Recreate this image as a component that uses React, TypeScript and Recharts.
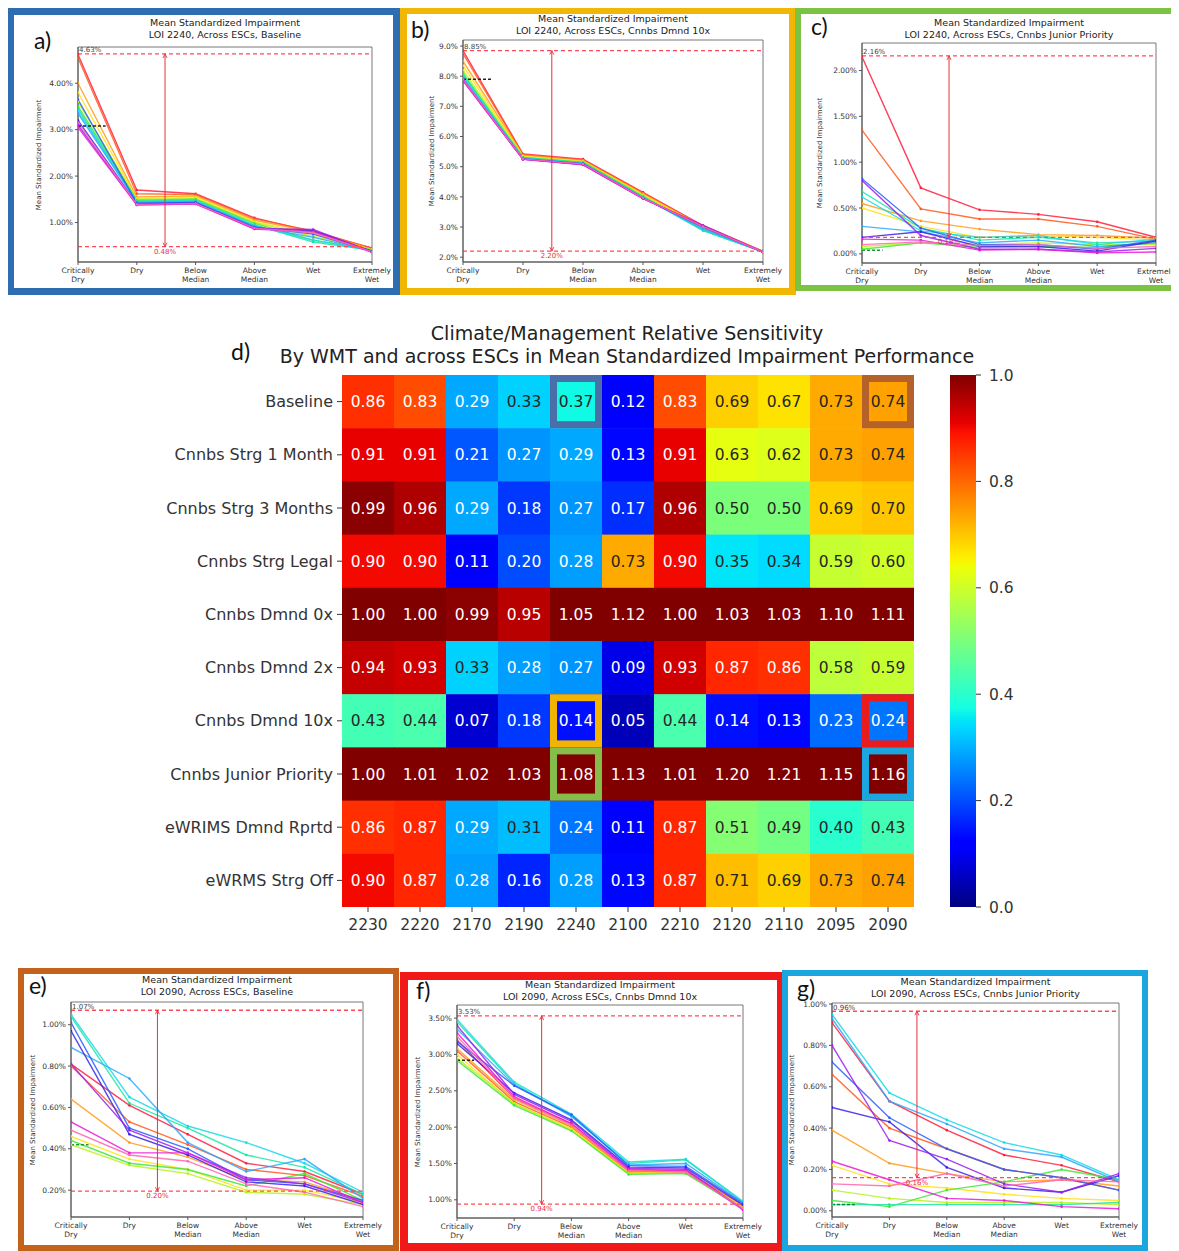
import React from 'react';
import {
  LineChart, Line, XAxis, YAxis, ReferenceLine, ReferenceArea,
  ScatterChart, Scatter, BarChart, Bar,
} from 'recharts';

const FONT = '"DejaVu Sans", sans-serif';
const TAG_FONT = 'Lato, "Open Sans", sans-serif';

// ---- shared categories ----
const CLIMATE = ['Critically Dry', 'Dry', 'Below Median', 'Above Median', 'Wet', 'Extremely Wet'];
const ESC_COLORS = [
  '#ff1f3d', '#ff5a1f', '#ff9d1a', '#ffe01a', '#b8f21a', '#3ee83a', '#19e6a0',
  '#19d9e6', '#2ba8ff', '#2c5cff', '#3a23e8', '#9a1ff0', '#e81ad8', '#ff66b0',
];

// ---- panel a: LOI 2240, Baseline ----
const SERIES_A = [
  [4.62, 1.70, 1.62, 1.10, 0.80, 0.45],
  [4.55, 1.62, 1.60, 1.08, 0.82, 0.44],
  [4.00, 1.55, 1.57, 1.05, 0.80, 0.43],
  [3.80, 1.52, 1.55, 1.02, 0.75, 0.42],
  [3.60, 1.50, 1.52, 1.00, 0.70, 0.42],
  [3.50, 1.48, 1.50, 0.98, 0.62, 0.41],
  [3.45, 1.46, 1.48, 0.95, 0.58, 0.40],
  [3.40, 1.45, 1.47, 0.93, 0.62, 0.40],
  [3.35, 1.44, 1.45, 0.92, 0.68, 0.39],
  [3.65, 1.42, 1.43, 0.90, 0.75, 0.38],
  [3.20, 1.40, 1.42, 0.88, 0.82, 0.38],
  [3.10, 1.38, 1.40, 0.87, 0.85, 0.37],
  [3.05, 1.38, 1.40, 0.86, 0.80, 0.36],
  [3.15, 1.39, 1.41, 0.88, 0.78, 0.37],
];
const LIMITS_A = [0.48, 4.63];
const MARK_A = 3.08;

// ---- panel b: LOI 2240, Cnnbs Dmnd 10x ----
const SERIES_B = [
  [8.85, 5.42, 5.25, 4.15, 3.05, 2.20],
  [8.75, 5.40, 5.22, 4.12, 3.03, 2.20],
  [8.50, 5.38, 5.20, 4.10, 3.02, 2.19],
  [8.35, 5.35, 5.18, 4.07, 3.00, 2.19],
  [8.20, 5.33, 5.16, 4.05, 2.95, 2.18],
  [8.10, 5.30, 5.15, 4.02, 2.90, 2.18],
  [8.05, 5.30, 5.13, 4.00, 2.88, 2.18],
  [8.00, 5.28, 5.12, 3.98, 2.90, 2.18],
  [7.95, 5.27, 5.10, 3.97, 2.95, 2.18],
  [7.90, 5.26, 5.10, 3.96, 3.00, 2.17],
  [7.88, 5.25, 5.08, 3.95, 3.02, 2.17],
  [7.85, 5.25, 5.07, 3.95, 3.05, 2.17],
  [7.85, 5.24, 5.06, 3.94, 3.03, 2.17],
  [7.90, 5.26, 5.09, 3.96, 3.01, 2.17],
];
const LIMITS_B = [2.2, 8.85];
const MARK_B = 7.9;

// ---- panel c: LOI 2240, Cnnbs Junior Priority ----
const SERIES_C = [
  [2.15, 0.72, 0.48, 0.43, 0.35, 0.18],
  [1.35, 0.49, 0.38, 0.38, 0.30, 0.16],
  [0.55, 0.36, 0.27, 0.21, 0.20, 0.17],
  [0.50, 0.30, 0.18, 0.20, 0.18, 0.15],
  [0.08, 0.12, 0.10, 0.12, 0.10, 0.10],
  [0.05, 0.12, 0.07, 0.08, 0.07, 0.12],
  [0.68, 0.28, 0.15, 0.18, 0.12, 0.14],
  [0.62, 0.25, 0.18, 0.20, 0.10, 0.16],
  [0.30, 0.24, 0.12, 0.15, 0.08, 0.12],
  [0.82, 0.28, 0.10, 0.10, 0.05, 0.15],
  [0.18, 0.24, 0.08, 0.08, 0.03, 0.14],
  [0.80, 0.20, 0.05, 0.05, 0.02, 0.06],
  [0.16, 0.15, 0.04, 0.05, 0.01, 0.02],
  [0.10, 0.13, 0.09, 0.10, 0.06, 0.08],
];
const LIMITS_C = [0.18, 2.16];
const MARK_C = 0.04;

// ---- panel e: LOI 2090, Baseline ----
const SERIES_E = [
  [0.81, 0.61, 0.47, 0.33, 0.29, 0.18],
  [0.80, 0.53, 0.42, 0.30, 0.27, 0.17],
  [0.64, 0.43, 0.36, 0.25, 0.24, 0.15],
  [0.46, 0.35, 0.30, 0.20, 0.20, 0.14],
  [0.42, 0.32, 0.28, 0.19, 0.18, 0.13],
  [0.44, 0.33, 0.30, 0.22, 0.28, 0.15],
  [1.04, 0.62, 0.50, 0.37, 0.31, 0.18],
  [1.05, 0.65, 0.51, 0.43, 0.33, 0.19],
  [0.89, 0.74, 0.43, 0.29, 0.35, 0.16],
  [1.01, 0.50, 0.40, 0.25, 0.23, 0.15],
  [0.97, 0.47, 0.37, 0.24, 0.22, 0.13],
  [0.81, 0.49, 0.38, 0.26, 0.23, 0.14],
  [0.53, 0.38, 0.38, 0.25, 0.26, 0.14],
  [0.49, 0.37, 0.34, 0.23, 0.19, 0.12],
];
const LIMITS_E = [0.195, 1.07];
const MARK_E = 0.42;

// ---- panel f: LOI 2090, Cnnbs Dmnd 10x ----
const SERIES_F = [
  [3.20, 2.40, 2.05, 1.40, 1.40, 0.92],
  [3.05, 2.35, 2.00, 1.38, 1.38, 0.90],
  [3.08, 2.38, 2.02, 1.40, 1.40, 0.91],
  [3.00, 2.32, 1.98, 1.37, 1.38, 0.90],
  [2.95, 2.33, 1.96, 1.36, 1.37, 0.89],
  [2.92, 2.30, 1.95, 1.35, 1.36, 0.88],
  [3.45, 2.60, 2.15, 1.50, 1.55, 0.97],
  [3.48, 2.62, 2.18, 1.52, 1.56, 0.98],
  [3.35, 2.58, 2.15, 1.48, 1.50, 0.96],
  [3.18, 2.57, 2.17, 1.47, 1.46, 0.95],
  [3.15, 2.47, 2.10, 1.45, 1.44, 0.93],
  [3.40, 2.45, 2.08, 1.43, 1.42, 0.87],
  [3.30, 2.42, 2.05, 1.42, 1.40, 0.86],
  [3.25, 2.40, 2.03, 1.40, 1.38, 0.88],
];
const LIMITS_F = [0.94, 3.53];
const MARK_F = 2.92;

// ---- panel g: LOI 2090, Cnnbs Junior Priority ----
const SERIES_G = [
  [0.91, 0.53, 0.39, 0.27, 0.22, 0.14],
  [0.66, 0.40, 0.30, 0.20, 0.16, 0.10],
  [0.39, 0.23, 0.18, 0.14, 0.15, 0.12],
  [0.22, 0.13, 0.11, 0.08, 0.06, 0.05],
  [0.10, 0.06, 0.04, 0.04, 0.04, 0.03],
  [0.05, 0.02, 0.10, 0.14, 0.20, 0.15],
  [0.03, 0.03, 0.03, 0.03, 0.03, 0.04],
  [0.95, 0.57, 0.44, 0.33, 0.27, 0.15],
  [0.93, 0.53, 0.42, 0.30, 0.26, 0.14],
  [0.72, 0.45, 0.30, 0.20, 0.16, 0.10],
  [0.50, 0.43, 0.21, 0.11, 0.09, 0.17],
  [0.80, 0.34, 0.25, 0.13, 0.09, 0.18],
  [0.24, 0.15, 0.06, 0.05, 0.02, 0.01],
  [0.13, 0.12, 0.18, 0.12, 0.15, 0.14],
];
const LIMITS_G = [0.16, 0.965];
const MARK_G = 0.03;

// ---- panel d: heatmap ----
const ESCS = ['2230', '2220', '2170', '2190', '2240', '2100', '2210', '2120', '2110', '2095', '2090'];
const WMTS = [
  'Baseline', 'Cnnbs Strg 1 Month', 'Cnnbs Strg 3 Months', 'Cnnbs Strg Legal', 'Cnnbs Dmnd 0x',
  'Cnnbs Dmnd 2x', 'Cnnbs Dmnd 10x', 'Cnnbs Junior Priority', 'eWRIMS Dmnd Rprtd', 'eWRMS Strg Off',
];
const ROW_BASELINE = [0.86, 0.83, 0.29, 0.33, 0.37, 0.12, 0.83, 0.69, 0.67, 0.73, 0.74];
const ROW_STRG_1M = [0.91, 0.91, 0.21, 0.27, 0.29, 0.13, 0.91, 0.63, 0.62, 0.73, 0.74];
const ROW_STRG_3M = [0.99, 0.96, 0.29, 0.18, 0.27, 0.17, 0.96, 0.50, 0.50, 0.69, 0.70];
const ROW_STRG_LEGAL = [0.90, 0.90, 0.11, 0.20, 0.28, 0.73, 0.90, 0.35, 0.34, 0.59, 0.60];
const ROW_DMND_0X = [1.00, 1.00, 0.99, 0.95, 1.05, 1.12, 1.00, 1.03, 1.03, 1.10, 1.11];
const ROW_DMND_2X = [0.94, 0.93, 0.33, 0.28, 0.27, 0.09, 0.93, 0.87, 0.86, 0.58, 0.59];
const ROW_DMND_10X = [0.43, 0.44, 0.07, 0.18, 0.14, 0.05, 0.44, 0.14, 0.13, 0.23, 0.24];
const ROW_JUNIOR = [1.00, 1.01, 1.02, 1.03, 1.08, 1.13, 1.01, 1.20, 1.21, 1.15, 1.16];
const ROW_EWRIMS_DMND = [0.86, 0.87, 0.29, 0.31, 0.24, 0.11, 0.87, 0.51, 0.49, 0.40, 0.43];
const ROW_EWRMS_STRG = [0.90, 0.87, 0.28, 0.16, 0.28, 0.13, 0.87, 0.71, 0.69, 0.73, 0.74];
const HEAT_ROWS = [
  ROW_BASELINE, ROW_STRG_1M, ROW_STRG_3M, ROW_STRG_LEGAL, ROW_DMND_0X,
  ROW_DMND_2X, ROW_DMND_10X, ROW_JUNIOR, ROW_EWRIMS_DMND, ROW_EWRMS_STRG,
];
// cells that are blown up in the side panels
const HIGHLIGHT_CELLS = [
  ['Baseline', '2240'], ['Baseline', '2090'], ['Cnnbs Dmnd 10x', '2240'],
  ['Cnnbs Dmnd 10x', '2090'], ['Cnnbs Junior Priority', '2240'], ['Cnnbs Junior Priority', '2090'],
];
const HIGHLIGHT_COLORS = ['#4a6fa8', '#b5622a', '#f2b400', '#e81c1c', '#86bd4a', '#1ba6e0'];
const CBAR_TICKS = [0, 0.2, 0.4, 0.6, 0.8, 1.0];

// ---- matplotlib jet colormap ----
const JET_R = [[0, 0], [0.35, 0], [0.66, 1], [0.89, 1], [1, 0.5]];
const JET_G = [[0, 0], [0.125, 0], [0.375, 1], [0.64, 1], [0.91, 0], [1, 0]];
const JET_B = [[0, 0.5], [0.11, 1], [0.34, 1], [0.65, 0], [1, 0]];
function interp(pts: number[][], v: number) {
  const t = Math.max(0, Math.min(1, v));
  for (let i = 1; i < pts.length; i++) {
    if (t <= pts[i][0]) {
      const [x0, y0] = pts[i - 1];
      const [x1, y1] = pts[i];
      return y0 + ((y1 - y0) * (t - x0)) / (x1 - x0);
    }
  }
  return pts[pts.length - 1][1];
}
const jet = (v: number) => [interp(JET_R, v), interp(JET_G, v), interp(JET_B, v)];
const hex = (c: number[]) =>
  '#' + c.map((x) => Math.round(x * 255).toString(16).padStart(2, '0')).join('');
const lum = (c: number[]) => {
  const lin = (x: number) => (x <= 0.03928 ? x / 12.92 : Math.pow((x + 0.055) / 1.055, 2.4));
  return 0.2126 * lin(c[0]) + 0.7152 * lin(c[1]) + 0.0722 * lin(c[2]);
};
const JET_STOPS = [0, 0.11, 0.125, 0.34, 0.35, 0.375, 0.5, 0.64, 0.65, 0.66, 0.89, 0.91, 1];

// ---- small line-chart panels ----
type Panel = {
  tag: string; title: string; series: number[][]; limits: number[]; mark: number;
  markColor: string; markTo: number; domain: [number, number]; ticks: number[]; digits: number;
  frame: number[]; border: string; bw: number; plot: number[]; tagPos: number[];
  titleY: number; ylabelX: number;
};

const PANELS: Panel[] = [
  {
    tag: 'a)', title: 'LOI 2240, Across ESCs, Baseline', series: SERIES_A, limits: LIMITS_A, mark: MARK_A,
    markColor: '#222', markTo: 0.47, domain: [0.15, 4.78], ticks: [1, 2, 3, 4], digits: 2,
    frame: [7, 8, 393, 287], border: '#2f6db3', bw: 7, plot: [78, 47, 372, 262], tagPos: [34, 29],
    titleY: 23, ylabelX: 38,
  },
  {
    tag: 'b)', title: 'LOI 2240, Across ESCs, Cnnbs Dmnd 10x', series: SERIES_B, limits: LIMITS_B, mark: MARK_B,
    markColor: '#222', markTo: 0.5, domain: [1.84, 9.2], ticks: [2, 3, 4, 5, 6, 7, 8, 9], digits: 1,
    frame: [400, 7, 396, 288], border: '#f2b705', bw: 7, plot: [463, 40, 763, 262], tagPos: [411, 18],
    titleY: 19, ylabelX: 432,
  },
  {
    tag: 'c)', title: 'LOI 2240, Across ESCs, Cnnbs Junior Priority', series: SERIES_C, limits: LIMITS_C, mark: MARK_C,
    markColor: '#1f9a2a', markTo: 0.35, domain: [-0.1, 2.3], ticks: [0, 0.5, 1, 1.5, 2], digits: 2,
    frame: [795, 8, 384, 283], border: '#7cc243', bw: 6, plot: [862, 43, 1156, 263], tagPos: [811, 15],
    titleY: 23, ylabelX: 820,
  },
  {
    tag: 'e)', title: 'LOI 2090, Across ESCs, Baseline', series: SERIES_E, limits: LIMITS_E, mark: MARK_E,
    markColor: '#1f9a2a', markTo: 0.3, domain: [0.07, 1.11], ticks: [0.2, 0.4, 0.6, 0.8, 1.0], digits: 2,
    frame: [18, 968, 381, 283], border: '#c4621b', bw: 6, plot: [71, 1002, 363, 1217], tagPos: [29, 974],
    titleY: 980, ylabelX: 32,
  },
  {
    tag: 'f)', title: 'LOI 2090, Across ESCs, Cnnbs Dmnd 10x', series: SERIES_F, limits: LIMITS_F, mark: MARK_F,
    markColor: '#222', markTo: 0.3, domain: [0.75, 3.68], ticks: [1, 1.5, 2, 2.5, 3, 3.5], digits: 2,
    frame: [400, 972, 385, 279], border: '#f01818', bw: 8, plot: [457, 1005, 743, 1218], tagPos: [416, 979],
    titleY: 985, ylabelX: 417,
  },
  {
    tag: 'g)', title: 'LOI 2090, Across ESCs, Cnnbs Junior Priority', series: SERIES_G, limits: LIMITS_G, mark: MARK_G,
    markColor: '#1f7a2a', markTo: 0.4, domain: [-0.03, 1.005], ticks: [0, 0.2, 0.4, 0.6, 0.8, 1.0], digits: 2,
    frame: [782, 970, 366, 281], border: '#1ba6df', bw: 6, plot: [832, 1003, 1119, 1217], tagPos: [797, 977],
    titleY: 982, ylabelX: 792,
  },
];

const ClimateTick = (props: any) => {
  const { x, y, payload } = props;
  const words = (CLIMATE[payload.value] || '').split(' ');
  return (
    <text x={x} y={y} textAnchor="middle" fontSize={7.5} fill="#333" fontFamily={FONT}>
      {words.map((w, k) => (
        <tspan key={k} x={x} dy={k === 0 ? '0.75em' : '1.2em'}>{w}</tspan>
      ))}
    </text>
  );
};

const HiLabel = (props: any) => {
  const { viewBox, value } = props;
  if (!viewBox) return null;
  return (
    <text x={viewBox.x + 1} y={viewBox.y - 1.5} fontSize={7} fill="#444" fontFamily={FONT}>{value}</text>
  );
};

// arrow tips and the low-value label for the vertical range line
const RangeLabel = (props: any) => {
  const { viewBox, value } = props;
  if (!viewBox) return null;
  const x = viewBox.x;
  const top = viewBox.y;
  const bot = viewBox.y + viewBox.height;
  return (
    <g>
      <path d={`M${x - 2},${top + 4} L${x},${top} L${x + 2},${top + 4}`} fill="none" stroke="#e8303c" strokeWidth={0.9} />
      <path d={`M${x - 2},${bot - 4} L${x},${bot} L${x + 2},${bot - 4}`} fill="none" stroke="#e8303c" strokeWidth={0.9} />
      <text x={x} y={bot + 7} textAnchor="middle" fontSize={7} fill="#e8303c" fontFamily={FONT}>{value}</text>
    </g>
  );
};

function SmallPanel({ p }: { p: Panel }) {
  const [l, t, r, b] = p.plot;
  const w = r - l;
  const h = b - t;
  const data = CLIMATE.map((c, i) => {
    const row: any = { i, name: c };
    p.series.forEach((s, k) => { row['s' + k] = s[i]; });
    return row;
  });
  const fmt = (v: number) => v.toFixed(p.digits) + '%';
  const [lo, hi] = p.limits;
  return (
    <>
      <div
        style={{
          position: 'absolute', left: p.frame[0], top: p.frame[1], width: p.frame[2], height: p.frame[3],
          border: `${p.bw}px solid ${p.border}`, boxSizing: 'border-box', background: '#fff',
        }}
      />
      <div
        style={{
          position: 'absolute', left: l - 40, width: w + 80, top: p.titleY - 6, textAlign: 'center',
          fontFamily: FONT, fontSize: 9.5, lineHeight: '11.5px', color: '#222', whiteSpace: 'nowrap',
        }}
      >
        Mean Standardized Impairment<br />{p.title}
      </div>
      <div
        style={{
          position: 'absolute', left: p.tagPos[0], top: p.tagPos[1], fontFamily: TAG_FONT,
          fontSize: 23, lineHeight: 1, color: '#111',
        }}
      >
        {p.tag}
      </div>
      <div
        style={{
          position: 'absolute', left: p.ylabelX - h / 2, top: (t + b) / 2 - 5, width: h, height: 10,
          textAlign: 'center', fontFamily: FONT, fontSize: 7, lineHeight: '10px', color: '#333',
          transform: 'rotate(-90deg)', whiteSpace: 'nowrap',
        }}
      >
        Mean Standardized Impairment
      </div>
      <div style={{ position: 'absolute', left: l - 60, top: t - 10 }}>
        <LineChart width={w + 90} height={h + 45} data={data} margin={{ top: 10, right: 30, bottom: 5, left: 20 }}>
          <XAxis
            type="number" dataKey="i" domain={[0, 5]} ticks={[0, 1, 2, 3, 4, 5]} interval={0}
            tick={<ClimateTick />} tickSize={3} tickMargin={2} height={30} stroke="#555" allowDataOverflow
          />
          <YAxis
            type="number" domain={p.domain} ticks={p.ticks} interval={0} tickFormatter={fmt} width={40}
            tickSize={3} tickMargin={2} stroke="#555" allowDataOverflow
            tick={{ fontSize: 7.5, fill: '#333', fontFamily: FONT }}
          />
          <ReferenceArea x1={0} x2={5} y1={p.domain[0]} y2={p.domain[1]} fill="none" stroke="#555" strokeWidth={0.8} />
          {p.series.map((_, k) => (
            <Line
              key={k} type="linear" dataKey={'s' + k} stroke={ESC_COLORS[k]} strokeWidth={1.4}
              strokeOpacity={0.85} isAnimationActive={false}
              dot={{ r: 1.3, fill: ESC_COLORS[k], stroke: ESC_COLORS[k], strokeWidth: 0 }}
            />
          ))}
          <ReferenceLine y={hi} stroke="#ff4a55" strokeDasharray="4 3" strokeWidth={1.3} label={<HiLabel value={hi.toFixed(2) + '%'} />} />
          <ReferenceLine y={lo} stroke="#ff4a55" strokeDasharray="4 3" strokeWidth={1.3} />
          <ReferenceLine
            segment={[{ x: 1.48, y: lo }, { x: 1.48, y: hi }]} stroke="#e8303c" strokeWidth={1}
            label={<RangeLabel value={lo.toFixed(2) + '%'} />}
          />
          <ReferenceLine
            segment={[{ x: 0, y: p.mark }, { x: p.markTo, y: p.mark }]} stroke={p.markColor}
            strokeDasharray="3 2" strokeWidth={1.5}
          />
        </LineChart>
      </div>
    </>
  );
}

// ---- heatmap ----
const HM_LEFT = 0;
const HM_TOP = 360;
const HM_W = 1000;
const HM_H = 590;
const HM_MARGIN = { top: 15, right: 86, bottom: 13, left: 142 };
const HM_YAXIS_W = 200;
const HM_XAXIS_H = 30;
const CELL_W = (HM_W - HM_MARGIN.left - HM_MARGIN.right - HM_YAXIS_W) / ESCS.length;
const CELL_H = (HM_H - HM_MARGIN.top - HM_MARGIN.bottom - HM_XAXIS_H) / WMTS.length;

const HeatCell = (props: any) => {
  const { cx, cy, payload } = props;
  const c = jet(payload.v);
  return (
    <g>
      <rect x={cx - CELL_W / 2} y={cy - CELL_H / 2} width={CELL_W + 0.6} height={CELL_H + 0.6} fill={hex(c)} />
      <text
        x={cx} y={cy} dy="0.36em" textAnchor="middle" fontSize={15.5} fontFamily={FONT}
        fill={lum(c) > 0.408 ? '#262626' : '#ffffff'}
      >
        {payload.v.toFixed(2)}
      </text>
    </g>
  );
};

const HighlightBox = (props: any) => {
  const { cx, cy, payload } = props;
  const sw = 7;
  return (
    <rect
      x={cx - CELL_W / 2 + sw / 2} y={cy - CELL_H / 2 + sw / 2} width={CELL_W - sw} height={CELL_H - sw}
      fill="none" stroke={HIGHLIGHT_COLORS[payload.k]} strokeWidth={sw}
    />
  );
};

function Heatmap() {
  const cells: any[] = [];
  HEAT_ROWS.forEach((row, r) => row.forEach((v, c) => cells.push({ x: c + 0.5, y: r + 0.5, v })));
  const boxes = HIGHLIGHT_CELLS.map(([wmt, esc], k) => ({
    x: ESCS.indexOf(esc) + 0.5, y: WMTS.indexOf(wmt) + 0.5, k,
  }));
  return (
    <div style={{ position: 'absolute', left: HM_LEFT, top: HM_TOP }}>
      <ScatterChart width={HM_W} height={HM_H} margin={HM_MARGIN}>
        <XAxis
          type="number" dataKey="x" domain={[0, ESCS.length]} ticks={ESCS.map((_, i) => i + 0.5)} interval={0}
          tickFormatter={(v: number) => ESCS[Math.floor(v)]} axisLine={false} tickSize={5} tickMargin={7}
          height={HM_XAXIS_H} stroke="#333" tick={{ fontSize: 15.5, fill: '#333', fontFamily: FONT }} allowDataOverflow
        />
        <YAxis
          type="number" dataKey="y" domain={[0, WMTS.length]} reversed ticks={WMTS.map((_, i) => i + 0.5)}
          interval={0} tickFormatter={(v: number) => WMTS[Math.floor(v)]} axisLine={false} tickSize={5}
          tickMargin={4} width={HM_YAXIS_W} stroke="#333"
          tick={{ fontSize: 16, fill: '#333', fontFamily: FONT }} allowDataOverflow
        />
        <Scatter data={cells} shape={<HeatCell />} isAnimationActive={false} />
        <Scatter data={boxes} shape={<HighlightBox />} isAnimationActive={false} />
      </ScatterChart>
    </div>
  );
}

function Colorbar() {
  return (
    <div style={{ position: 'absolute', left: 930, top: HM_TOP }}>
      <BarChart
        width={90} height={HM_H} data={[{ name: 'cbar', v: 1 }]} barCategoryGap={0}
        margin={{ top: HM_MARGIN.top, right: 4, bottom: HM_MARGIN.bottom + HM_XAXIS_H, left: 20 }}
      >
        <XAxis dataKey="name" hide />
        <YAxis
          orientation="right" type="number" domain={[0, 1]} ticks={CBAR_TICKS} interval={0}
          tickFormatter={(v: number) => v.toFixed(1)} axisLine={false} tickSize={5} tickMargin={8} width={40}
          stroke="#333" tick={{ fontSize: 15.5, fill: '#333', fontFamily: FONT }}
        />
        <Bar dataKey="v" fill="url(#jetGrad)" isAnimationActive={false} />
      </BarChart>
    </div>
  );
}

export default function App() {
  return (
    <div
      style={{
        position: 'relative', width: 1179, height: 1251, margin: '-8px 0 0 -8px',
        background: '#fff', overflow: 'hidden', fontFamily: FONT,
      }}
    >
      <svg width={0} height={0} style={{ position: 'absolute' }}>
        <defs>
          <linearGradient id="jetGrad" x1="0" y1="1" x2="0" y2="0">
            {JET_STOPS.map((s) => (
              <stop key={s} offset={s} stopColor={hex(jet(s))} />
            ))}
          </linearGradient>
        </defs>
      </svg>

      {PANELS.map((p) => (
        <SmallPanel key={p.tag} p={p} />
      ))}

      <div
        style={{
          position: 'absolute', left: 127, width: 1000, top: 322, textAlign: 'center', fontSize: 19,
          lineHeight: '23px', color: '#222', whiteSpace: 'nowrap',
        }}
      >
        Climate/Management Relative Sensitivity<br />
        By WMT and across ESCs in Mean Standardized Impairment Performance
      </div>
      <div style={{ position: 'absolute', left: 231, top: 340, fontFamily: TAG_FONT, fontSize: 23, lineHeight: 1, color: '#111' }}>
        d)
      </div>

      <Heatmap />
      <Colorbar />
    </div>
  );
}
